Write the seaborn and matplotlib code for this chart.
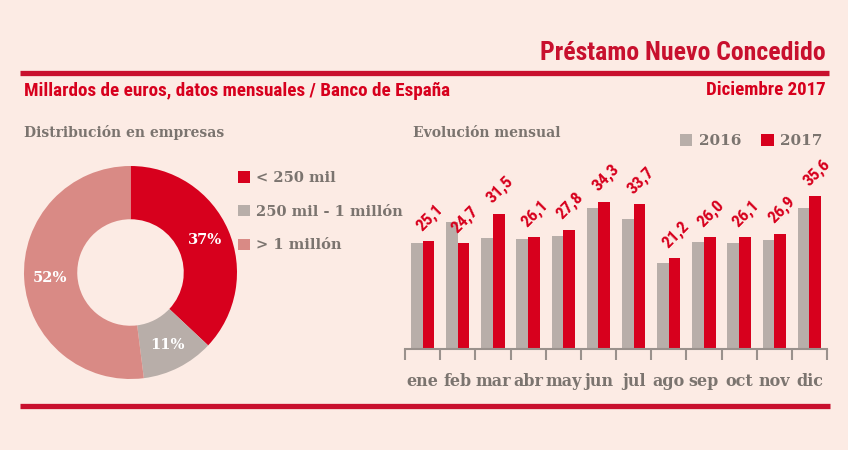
import matplotlib
matplotlib.use('Agg')
import matplotlib.pyplot as plt
import seaborn as sns
import pandas as pd
import numpy as np
from matplotlib import font_manager
from matplotlib.lines import Line2D

# ---------------- data ----------------
months = ['ene', 'feb', 'mar', 'abr', 'may', 'jun', 'jul', 'ago', 'sep', 'oct', 'nov', 'dic']
v2016 = [24.7, 29.6, 25.9, 25.6, 26.3, 32.9, 30.2, 20.1, 25.0, 24.7, 25.3, 32.9]
v2017 = [25.1, 24.7, 31.5, 26.1, 27.8, 34.3, 33.7, 21.2, 26.0, 26.1, 26.9, 35.6]
years = ['2016', '2017']
seg_labels = ['< 250 mil', '250 mil - 1 millón', '> 1 millón']
seg_values = [37, 11, 52]

# ---------------- style ----------------
BG = '#fcebe4'
RED = '#d7001d'
GREY = '#b8aea9'
PINK = '#d98a85'
LINE_RED = '#c8102e'
TXT_GREY = '#7b746f'
AX_GREY = '#9a918c'

sns.set_theme(style='white')
avail = {f.name for f in font_manager.fontManager.ttflist}
cond = next((f for f in ['Roboto Condensed', 'Liberation Sans Narrow', 'Roboto']
             if f in avail), 'DejaVu Sans')
serif = ['DejaVu Serif']
plt.rcParams['font.family'] = [cond, 'DejaVu Sans']

W, H = 848, 450
fig = plt.figure(figsize=(W / 100, H / 100), dpi=100, facecolor=BG)


def px(x, y):
    return x / W, 1 - y / H


# rules
fig.add_artist(Line2D([20 / W, 829 / W], [1 - 72.5 / H] * 2, color=LINE_RED, lw=3.8,
                      solid_capstyle='butt'))
fig.add_artist(Line2D([20 / W, 830 / W], [1 - 405.5 / H] * 2, color=LINE_RED, lw=3.8,
                      solid_capstyle='butt'))

# header texts
fig.text(*px(826, 53), 'Préstamo Nuevo Concedido', ha='right', va='center',
         color=LINE_RED, fontsize=18.5, fontweight='bold')
fig.text(*px(24, 91), 'Millardos de euros, datos mensuales / Banco de España',
         ha='left', va='center', color=RED, fontsize=13.8, fontweight='bold')
fig.text(*px(826, 90), 'Diciembre 2017', ha='right', va='center', color=RED,
         fontsize=13.6, fontweight='bold')
fig.text(*px(24, 133), 'Distribución en empresas', ha='left', va='center',
         color=TXT_GREY, fontsize=10, fontweight='bold', family=serif)
fig.text(*px(413, 133), 'Evolución mensual', ha='left', va='center',
         color=TXT_GREY, fontsize=10, fontweight='bold', family=serif)

# ---------------- donut ----------------
cx, cy, r = 130.5, 272.5, 106.5
L = 1.1
side = 2 * L * r
ax_p = fig.add_axes([(cx - side / 2) / W, (H - cy - side / 2) / H, side / W, side / H])
wedges, texts, autotexts = ax_p.pie(
    seg_values, colors=[RED, GREY, PINK], startangle=90, counterclock=False,
    radius=1, wedgeprops=dict(width=0.5, edgecolor='none', linewidth=0), autopct='%.0f%%',
    pctdistance=0.76,
    textprops=dict(color='white', fontsize=10.5, fontweight='bold', family=serif))
ax_p.set_xlim(-L, L)
ax_p.set_ylim(-L, L)
ax_p.axis('off')

fig.legend(wedges, seg_labels, loc='upper left', bbox_to_anchor=px(238, 171),
           frameon=False, handlelength=0.8, handleheight=0.8, handletextpad=0.45,
           labelspacing=1.35, borderaxespad=0, borderpad=0,
           prop=dict(family=serif, weight='bold', size=10.5), labelcolor=TXT_GREY)

# ---------------- bars ----------------
df = pd.DataFrame({'mes': months * 2,
                   'año': [years[0]] * 12 + [years[1]] * 12,
                   'valor': v2016 + v2017})
scale = 4.29  # px per unit
top_px = 150
ax_b = fig.add_axes([405 / W, (H - 349) / H, 422 / W, (349 - top_px) / H], facecolor='none')
sns.barplot(data=df, x='mes', y='valor', hue='año', palette=[GREY, RED], width=0.66,
            gap=0, saturation=1, ax=ax_b, order=months, hue_order=years,
            linewidth=0, edgecolor='none')
ax_b.set_xlim(-0.5, 11.5)
ax_b.set_ylim(0, (349 - top_px) / scale)
for s in ['left', 'top', 'right']:
    ax_b.spines[s].set_visible(False)
ax_b.spines['bottom'].set_color(AX_GREY)
ax_b.spines['bottom'].set_linewidth(1.5)
ax_b.set_yticks([])
ax_b.set_xlabel('')
ax_b.set_ylabel('')
ax_b.set_xticks(np.arange(-0.5, 12, 1), minor=True)
ax_b.tick_params(axis='x', which='minor', bottom=True, length=8, width=1.5, color=AX_GREY,
                 direction='out')
ax_b.tick_params(axis='x', which='major', bottom=True, length=0, pad=17, labelsize=11.5,
                 labelcolor=TXT_GREY)
for t in ax_b.get_xticklabels():
    t.set_family(serif)
    t.set_fontweight('bold')

for i, v in enumerate(v2017):
    ax_b.annotate(f'{v:.1f}'.replace('.', ','), xy=(i + 0.165, v), xytext=(1, 17),
                  textcoords='offset points', rotation=45, ha='center', va='center',
                  rotation_mode='anchor', color=RED, fontsize=12.5, fontweight='bold')

handles, _ = ax_b.get_legend_handles_labels()
if ax_b.get_legend() is not None:
    ax_b.get_legend().remove()
fig.legend(handles, years, loc='center left', bbox_to_anchor=px(680, 141), ncol=2,
           frameon=False, handlelength=0.8, handleheight=0.8, handletextpad=0.45,
           columnspacing=1.3, borderaxespad=0, borderpad=0,
           prop=dict(family=serif, weight='bold', size=11), labelcolor=TXT_GREY)

fig.savefig('out.png', dpi=100, facecolor=BG)
